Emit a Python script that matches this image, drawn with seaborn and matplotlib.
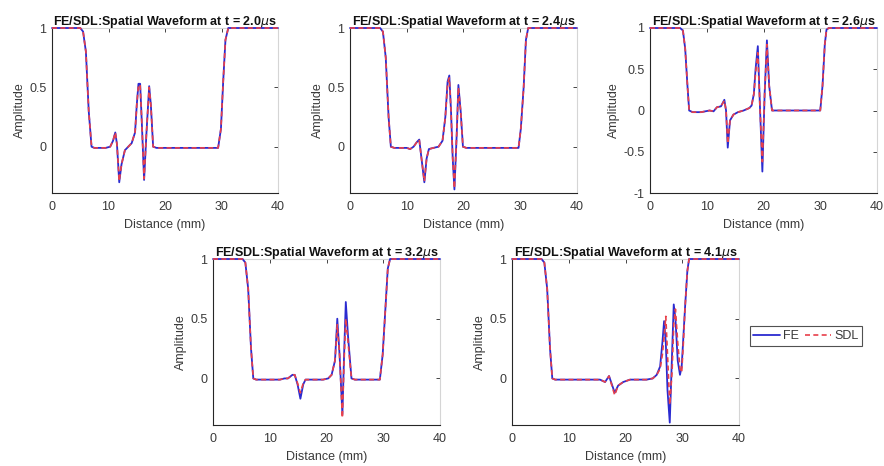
import matplotlib
matplotlib.use("Agg")
import matplotlib.pyplot as plt
import seaborn as sns
import pandas as pd
from matplotlib.lines import Line2D

sns.set_theme(style="white")
plt.rcParams['font.family'] = ['Liberation Sans', 'DejaVu Sans']
plt.rcParams['mathtext.fontset'] = 'dejavusans'

# ---------------- data ----------------
times = ["2.0", "2.4", "2.6", "3.2", "4.1"]

x1 = [0, 5.0, 5.5, 6.0, 6.5, 7.0, 7.5, 9.5, 10.3, 10.8, 11.2, 11.5, 11.9, 12.3, 12.9, 13.5, 14.1,
      14.7, 15.0, 15.3, 15.6, 15.9, 16.3, 16.7, 17.2, 17.5, 17.9, 18.5, 29.4, 29.9, 30.3, 30.7, 31.2, 40]
fe1 = [1, 1, 0.97, 0.8, 0.3, 0.0, -0.01, -0.01, 0.0, 0.05, 0.12, 0.02, -0.30, -0.15, -0.03, 0.0, 0.03,
       0.12, 0.35, 0.53, 0.53, 0.2, -0.28, 0.1, 0.51, 0.35, 0.0, -0.01, -0.01, 0.15, 0.55, 0.9, 1, 1]
sdl1 = [1, 1, 0.97, 0.8, 0.3, 0.0, -0.01, -0.01, 0.0, 0.05, 0.12, 0.02, -0.29, -0.15, -0.03, 0.0, 0.03,
        0.12, 0.35, 0.52, 0.52, 0.2, -0.27, 0.1, 0.50, 0.35, 0.0, -0.01, -0.01, 0.15, 0.55, 0.9, 1, 1]

x2 = [0, 5.3, 5.8, 6.3, 6.8, 7.2, 7.8, 10.0, 10.6, 11.2, 11.8, 12.2, 12.6, 13.1, 13.5, 13.9, 14.7, 15.6,
      16.3, 16.8, 17.2, 17.5, 17.8, 18.1, 18.4, 18.8, 19.1, 19.5, 19.9, 20.5, 29.7, 30.1, 30.6, 31.0, 31.4, 40]
fe2 = [1, 1, 0.97, 0.75, 0.25, 0.0, -0.01, -0.01, -0.02, 0.0, 0.04, 0.06, -0.1, -0.30, -0.1, -0.02, -0.01, 0.0,
       0.05, 0.25, 0.55, 0.6, 0.3, -0.1, -0.36, 0.1, 0.52, 0.3, 0.0, -0.01, -0.01, 0.15, 0.5, 0.9, 1, 1]
sdl2 = [1, 1, 0.97, 0.75, 0.25, 0.0, -0.01, -0.01, -0.02, 0.0, 0.04, 0.06, -0.1, -0.29, -0.1, -0.02, -0.01, 0.0,
        0.05, 0.25, 0.53, 0.58, 0.3, -0.1, -0.35, 0.1, 0.50, 0.3, 0.0, -0.01, -0.01, 0.15, 0.5, 0.9, 1, 1]

x3 = [0, 5.3, 5.8, 6.2, 6.6, 6.9, 7.5, 9.0, 10.5, 11.2, 11.8, 12.5, 13.1, 13.4, 13.7, 14.1, 14.7, 15.5, 16.5,
      17.5, 17.9, 18.3, 18.6, 19.0, 19.4, 19.8, 20.2, 20.6, 21.0, 21.5, 22.0, 30.0, 30.4, 30.8, 31.1, 31.5, 40]
fe3 = [1, 1, 0.97, 0.75, 0.3, 0.0, -0.02, -0.02, 0.0, -0.01, 0.04, 0.05, 0.13, 0.0, -0.45, -0.12, -0.05, -0.02, 0.0,
       0.03, 0.06, 0.2, 0.5, 0.78, 0.0, -0.74, 0.2, 0.85, 0.3, 0.0, 0.0, 0.0, 0.3, 0.8, 0.98, 1, 1]
sdl3 = [1, 1, 0.97, 0.75, 0.3, 0.0, -0.02, -0.02, 0.0, -0.01, 0.04, 0.05, 0.12, 0.0, -0.40, -0.12, -0.05, -0.02, 0.0,
        0.03, 0.06, 0.2, 0.45, 0.70, 0.0, -0.62, 0.2, 0.80, 0.3, 0.0, 0.0, 0.0, 0.3, 0.8, 0.98, 1, 1]

x4 = [0, 5.2, 5.7, 6.2, 6.7, 7.1, 7.6, 11.8, 12.6, 13.2, 14.0, 14.4, 14.9, 15.4, 15.9, 16.3, 17.0, 19.4,
      20.3, 20.9, 21.5, 21.9, 22.3, 22.8, 23.1, 23.4, 23.8, 24.4, 25.0, 29.4, 29.9, 30.4, 30.8, 31.2, 40]
fe4 = [1, 1, 0.97, 0.75, 0.25, 0.0, -0.01, -0.01, 0.0, 0.0, 0.03, 0.03, -0.05, -0.17, -0.05, -0.01, -0.01, -0.01,
       0.0, 0.03, 0.15, 0.5, 0.2, -0.3, 0.2, 0.64, 0.35, 0.0, -0.01, -0.01, 0.2, 0.6, 0.92, 1, 1]
sdl4 = [1, 1, 0.97, 0.75, 0.25, 0.0, -0.01, -0.01, 0.0, 0.0, 0.03, 0.03, -0.04, -0.12, -0.04, -0.01, -0.01, -0.01,
        0.0, 0.03, 0.15, 0.45, 0.2, -0.33, 0.15, 0.50, 0.3, 0.0, -0.01, -0.01, 0.2, 0.6, 0.92, 1, 1]

x5 = [0, 5.2, 5.7, 6.2, 6.7, 7.1, 7.6, 14.3, 15.5, 16.4, 17.1, 17.6, 18.1, 18.7, 19.6, 20.8, 23.7, 24.8,
      25.5, 26.1, 26.5, 26.8, 27.1, 27.4, 27.8, 28.2, 28.5, 28.8, 29.2, 29.6, 29.9, 30.2, 30.5, 30.9, 31.2, 40]
fe5 = [1, 1, 0.97, 0.75, 0.25, 0.0, -0.01, -0.01, -0.01, -0.03, 0.02, -0.05, -0.12, -0.06, -0.03, -0.01, -0.01, 0.0,
       0.03, 0.1, 0.3, 0.48, 0.3, -0.1, -0.37, 0.2, 0.62, 0.5, 0.15, 0.03, 0.1, 0.35, 0.6, 0.9, 1, 1]
sdl5 = [1, 1, 0.97, 0.75, 0.25, 0.0, -0.01, -0.01, -0.01, -0.03, 0.02, -0.06, -0.14, -0.06, -0.03, -0.01, -0.01, 0.0,
        0.03, 0.08, 0.2, 0.35, 0.52, 0.2, -0.22, 0.05, 0.45, 0.58, 0.3, 0.08, 0.05, 0.3, 0.6, 0.9, 1, 1]

xs = [x1, x2, x3, x4, x5]
fes = [fe1, fe2, fe3, fe4, fe5]
sdls = [sdl1, sdl2, sdl3, sdl4, sdl5]
ylims = [(-0.39, 1), (-0.39, 1), (-1, 1), (-0.39, 1), (-0.39, 1)]
yticks = [[0, 0.5, 1], [0, 0.5, 1], [-1, -0.5, 0, 0.5, 1], [0, 0.5, 1], [0, 0.5, 1]]
xticks = [0, 10, 20, 30, 40]
series_names = ["FE", "SDL"]

# ---------------- layout ----------------
W, H = 884, 466
fig = plt.figure(figsize=(W / 100, H / 100), dpi=100)
boxes = [(52, 28, 278, 193), (350, 28, 577, 193), (650, 28, 877, 193),
         (213, 259, 440, 425), (512, 259, 739, 425)]

FE_COLOR = "#2b2bd0"
SDL_COLOR = "#e8404a"
TXT = "#3a3a3a"

def fmt(v):
    return "%g" % v

for i in range(5):
    l, t, r, b = boxes[i]
    ax = fig.add_axes([l / W, 1 - b / H, (r - l) / W, (b - t) / H])
    df = pd.DataFrame({"Distance": xs[i], "FE": fes[i], "SDL": sdls[i]})
    sns.lineplot(data=df, x="Distance", y="FE", ax=ax, color=FE_COLOR, lw=1.3, sort=False,
                 clip_on=False, zorder=4)
    sns.lineplot(data=df, x="Distance", y="SDL", ax=ax, color=SDL_COLOR, lw=1.2,
                 linestyle=(0, (3, 2)), sort=False, clip_on=False, zorder=5)
    ax.set_xlim(0, 40)
    ax.set_ylim(*ylims[i])
    ax.set_xticks(xticks)
    ax.set_xticklabels([fmt(v) for v in xticks])
    ax.set_yticks(yticks[i])
    ax.set_yticklabels([fmt(v) for v in yticks[i]])
    ax.set_xlabel("Distance (mm)", fontsize=9, color=TXT, labelpad=4)
    ax.set_ylabel("Amplitude", fontsize=9, color=TXT, labelpad=2)
    ax.set_title("FE/SDL:Spatial Waveform at t = %s$\\mu$s" % times[i], fontsize=9,
                 fontweight="bold", pad=2, color="#111111")
    ax.tick_params(direction="in", length=3, width=0.6, labelsize=9, pad=4,
                   top=True, right=True, labelcolor=TXT, color="#262626")
    ax.tick_params(axis="x", pad=6)
    for s in ["left", "bottom"]:
        ax.spines[s].set_color("#262626")
        ax.spines[s].set_linewidth(0.8)
    for s in ["top", "right"]:
        ax.spines[s].set_color("#d5d5d5")
        ax.spines[s].set_linewidth(0.8)
    ax.set_facecolor("white")

handles = [Line2D([], [], color=FE_COLOR, lw=1.3),
           Line2D([], [], color=SDL_COLOR, lw=1.2, linestyle=(0, (3, 2)))]
leg = fig.legend(handles, series_names, loc="center", bbox_to_anchor=(806 / W, 1 - 336 / H),
                 ncol=2, fontsize=9, frameon=True, fancybox=False, handlelength=2.1,
                 handletextpad=0.25, columnspacing=0.5, borderpad=0.3, borderaxespad=0)
for txt in leg.get_texts():
    txt.set_color(TXT)
leg.get_frame().set_edgecolor("#262626")
leg.get_frame().set_linewidth(0.8)

fig.savefig("out.png", dpi=100, facecolor="white")
